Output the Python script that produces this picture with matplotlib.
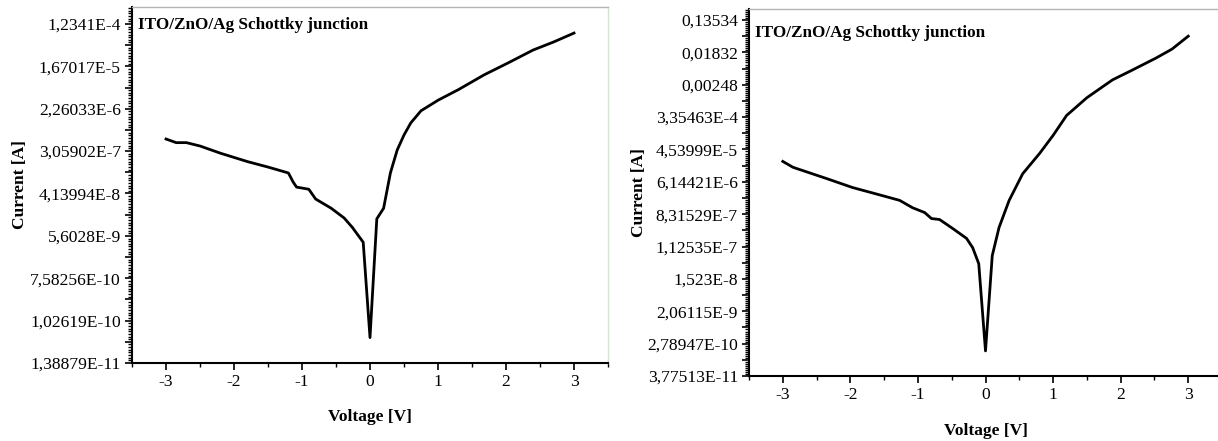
import numpy as np
import matplotlib
matplotlib.use("Agg")
import matplotlib.pyplot as plt
from matplotlib.ticker import FixedLocator, FixedFormatter, MultipleLocator

plt.rcParams["font.family"] = ["Liberation Serif", "DejaVu Serif"]
plt.rcParams["axes.unicode_minus"] = False

title_text = "ITO/ZnO/Ag Schottky junction"

# left panel: I-V sweep
voltage_a = [-3.0, -2.85, -2.7, -2.5, -2.2, -2.0, -1.8, -1.5, -1.2, -1.13, -1.08, -0.9,
             -0.8, -0.57, -0.38, -0.26, -0.1, 0.0, 0.1, 0.2, 0.3, 0.4, 0.5, 0.6, 0.75,
             1.0, 1.3, 1.68, 2.03, 2.4, 2.7, 3.0]
current_a = [5.41e-7, 4.56e-7, 4.56e-7, 3.89e-7, 2.77e-7, 2.27e-7, 1.86e-7, 1.44e-7,
             1.09e-7, 7.1e-8, 5.59e-8, 5.06e-8, 3.19e-8, 2.06e-8, 1.30e-8, 8.36e-9,
             4.15e-9, 4.61e-11, 1.25e-8, 2.06e-8, 1.09e-7, 3.22e-7, 6.54e-7, 1.157e-6,
             2.05e-6, 3.37e-6, 5.56e-6, 1.12e-5, 1.96e-5, 3.61e-5, 5.27e-5, 8.03e-5]
yticks_a = [1.38879e-11, 1.02619e-10, 7.58256e-10, 5.6028e-9, 4.13994e-8,
            3.05902e-7, 2.26033e-6, 1.67017e-5, 1.2341e-4]
ylabels_a = ["1,38879E-11", "1,02619E-10", "7,58256E-10", "5,6028E-9", "4,13994E-8",
             "3,05902E-7", "2,26033E-6", "1,67017E-5", "1,2341E-4"]

# right panel
voltage_b = [-3.0, -2.85, -2.35, -1.97, -1.53, -1.27, -1.08, -0.9, -0.8, -0.68, -0.48,
             -0.28, -0.19, -0.1, 0.0, 0.1, 0.2, 0.35, 0.55, 0.8, 1.0, 1.2, 1.5, 1.88,
             2.17, 2.52, 2.76, 3.0]
current_b = [2.17e-5, 1.51e-5, 7.50e-6, 4.33e-6, 2.63e-6, 1.95e-6, 1.24e-6, 9.19e-7,
             6.35e-7, 5.98e-7, 3.38e-7, 1.86e-7, 1.05e-7, 3.90e-8, 1.78e-10, 6.43e-8,
             3.63e-7, 1.95e-6, 1.01e-5, 3.54e-5, 1.08e-4, 3.71e-4, 1.11e-3, 3.35e-3,
             6.10e-3, 1.28e-2, 2.24e-2, 4.98e-2]
yticks_b = [3.77513e-11, 2.78947e-10, 2.06115e-9, 1.523e-8, 1.12535e-7, 8.31529e-7,
            6.14421e-6, 4.53999e-5, 3.35463e-4, 0.00248, 0.01832, 0.13534]
ylabels_b = ["3,77513E-11", "2,78947E-10", "2,06115E-9", "1,523E-8", "1,12535E-7",
             "8,31529E-7", "6,14421E-6", "4,53999E-5", "3,35463E-4", "0,00248",
             "0,01832", "0,13534"]


def style_axes(ax, yticks, ylabels, ylim_ln, title_y):
    ax.set_yscale("log", base=np.e)
    ax.set_xlim(-3.5, 3.5)
    ax.set_ylim(np.exp(ylim_ln[0]), np.exp(ylim_ln[1]))

    # labelled ticks every e^2, unlabelled ones in between, dense minor ticks
    ln_lo = int(round(np.log(yticks[0])))
    ln_hi = int(np.ceil(ylim_ln[1]))
    majors = np.exp(np.arange(ln_lo, ln_hi + 1))
    labels = []
    for m in majors:
        hit = [lab for t, lab in zip(yticks, ylabels) if abs(np.log(t) - np.log(m)) < 0.05]
        labels.append(hit[0] if hit else "")
    ax.yaxis.set_major_locator(FixedLocator(majors))
    ax.yaxis.set_major_formatter(FixedFormatter(labels))
    ax.yaxis.set_minor_locator(FixedLocator(np.exp(np.arange(ln_lo, ln_hi, 0.125))))
    ax.yaxis.set_minor_formatter(FixedFormatter([]))

    ax.xaxis.set_major_locator(MultipleLocator(1))
    ax.xaxis.set_minor_locator(MultipleLocator(0.5))

    ax.tick_params(which="major", direction="out", length=5, width=1.2, labelsize=12.6, pad=3)
    ax.tick_params(which="minor", direction="out", length=3, width=1.0)

    for side in ["left", "bottom"]:
        ax.spines[side].set_linewidth(1.5)
        ax.spines[side].set_color("black")
    ax.spines["top"].set_color("#b4b4b4")
    ax.spines["top"].set_linewidth(1.0)
    ax.spines["right"].set_color("#cfe6cf")
    ax.spines["right"].set_linewidth(1.0)

    ax.set_ylabel("Current [A]", fontsize=12.5, fontweight="bold")
    ax.set_xlabel("Voltage [V]", fontsize=12.5, fontweight="bold")
    ax.text(0.013, title_y, title_text, transform=ax.transAxes, fontsize=12.3,
            fontweight="bold", va="center", ha="left")


fig = plt.figure(figsize=(12.18, 4.41), dpi=100)
W, H = 1218.0, 441.0

ax1 = fig.add_axes([132 / W, 1 - 363 / H, (608 - 132) / W, (363 - 7) / H])
ax1.plot(voltage_a, current_a, color="black", linewidth=2.0)
style_axes(ax1, yticks_a, ylabels_a, (-25, -8.2), 0.95)
ax1.yaxis.set_label_coords(-0.218, 0.5)
ax1.xaxis.set_label_coords(0.5, -0.128)

ax2 = fig.add_axes([749 / W, 1 - 376 / H, (1222 - 749) / W, (376 - 9) / H])
ax2.plot(voltage_b, current_b, color="black", linewidth=2.0)
style_axes(ax2, yticks_b, ylabels_b, (-24, -1.32), 0.935)
ax2.yaxis.set_label_coords(-0.215, 0.5)
ax2.xaxis.set_label_coords(0.5, -0.128)

fig.savefig("out.png", dpi=100)
